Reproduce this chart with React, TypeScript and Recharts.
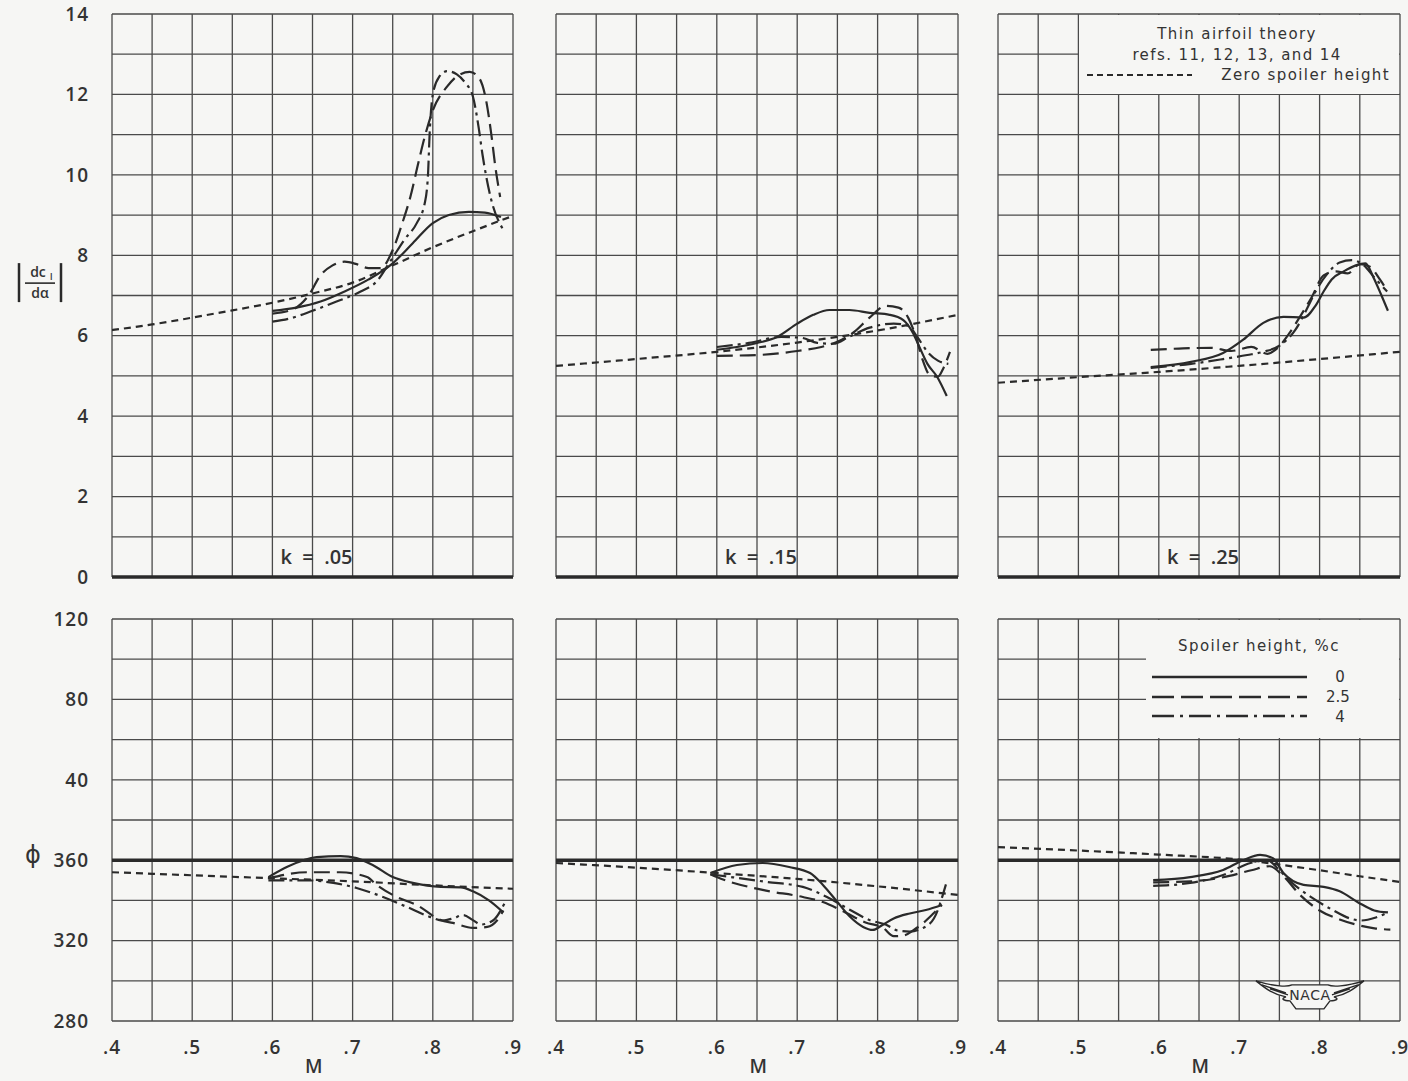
import React from 'react';
import { LineChart, Line, XAxis, YAxis, CartesianGrid, ReferenceLine, ReferenceDot, Legend } from 'recharts';

type Pt = [number, number];

// ---------- axes / ticks ----------
const mGridTicks = [0.4, 0.45, 0.5, 0.55, 0.6, 0.65, 0.7, 0.75, 0.8, 0.85, 0.9];
const mLabelTicks = [0.4, 0.5, 0.6, 0.7, 0.8, 0.9];
const mLabelText = ['.4', '.5', '.6', '.7', '.8', '.9'];
const slopeGridTicks = [0, 1, 2, 3, 4, 5, 6, 7, 8, 9, 10, 11, 12, 13, 14];
const slopeLabelTicks = [0, 2, 4, 6, 8, 10, 12, 14];
const phiGridTicks = [-80, -60, -40, -20, 0, 20, 40, 60, 80, 100, 120];
const phiLabelTicks = [-80, -40, 0, 40, 80, 120];
const phiLabelText = ['280', '320', '360', '40', '80', '120'];
const kLabels = ['k  =  .05', 'k  =  .15', 'k  =  .25'];

// ---------- |dc_l/dα| data (M, value) ----------
const slopeTheoryK05: Pt[] = [[0.4, 6.14], [0.45, 6.28], [0.5, 6.45], [0.55, 6.63], [0.6, 6.82], [0.65, 7.05], [0.7, 7.32], [0.75, 7.75], [0.8, 8.2], [0.85, 8.6], [0.9, 8.98]];
const slopeS0K05: Pt[] = [[0.6, 6.62], [0.63, 6.7], [0.66, 6.85], [0.69, 7.1], [0.72, 7.4], [0.75, 7.8], [0.775, 8.3], [0.8, 8.8], [0.82, 9.0], [0.845, 9.08], [0.865, 9.06], [0.885, 8.95]];
const slopeS25K05: Pt[] = [[0.6, 6.55], [0.625, 6.65], [0.645, 7.0], [0.66, 7.5], [0.675, 7.75], [0.69, 7.84], [0.705, 7.78], [0.72, 7.68], [0.735, 7.68], [0.75, 8.13], [0.762, 8.8], [0.772, 9.45], [0.782, 10.3], [0.79, 10.95], [0.8, 11.6], [0.818, 12.2], [0.83, 12.45], [0.846, 12.56], [0.858, 12.4], [0.866, 11.9], [0.873, 11.0], [0.878, 10.2], [0.884, 9.45]];
const slopeS4K05: Pt[] = [[0.6, 6.35], [0.62, 6.42], [0.65, 6.62], [0.68, 6.85], [0.71, 7.1], [0.73, 7.35], [0.747, 7.85], [0.765, 8.4], [0.78, 8.8], [0.79, 9.3], [0.794, 10.0], [0.796, 11.0], [0.8, 12.0], [0.808, 12.44], [0.818, 12.58], [0.83, 12.5], [0.84, 12.3], [0.85, 11.95], [0.857, 11.2], [0.862, 10.5], [0.872, 9.45], [0.888, 8.63]];

const slopeTheoryK15: Pt[] = [[0.4, 5.25], [0.5, 5.42], [0.6, 5.6], [0.7, 5.83], [0.8, 6.13], [0.9, 6.52]];
const slopeS0K15: Pt[] = [[0.6, 5.65], [0.625, 5.72], [0.65, 5.82], [0.675, 5.97], [0.7, 6.3], [0.72, 6.52], [0.74, 6.64], [0.765, 6.64], [0.79, 6.57], [0.815, 6.52], [0.832, 6.39], [0.844, 6.07], [0.852, 5.72], [0.862, 5.3], [0.874, 4.98], [0.886, 4.5]];
const slopeS25K15: Pt[] = [[0.6, 5.5], [0.65, 5.52], [0.7, 5.62], [0.73, 5.72], [0.75, 5.85], [0.77, 6.08], [0.79, 6.45], [0.81, 6.74], [0.826, 6.7], [0.838, 6.45], [0.848, 5.95], [0.856, 5.4], [0.865, 5.02], [0.875, 4.98], [0.882, 5.2], [0.89, 5.6]];
const slopeS4K15: Pt[] = [[0.6, 5.72], [0.64, 5.82], [0.68, 5.97], [0.705, 5.95], [0.725, 5.82], [0.745, 5.8], [0.765, 5.98], [0.79, 6.2], [0.82, 6.3], [0.838, 6.25], [0.85, 5.95], [0.862, 5.6], [0.875, 5.38], [0.888, 5.3]];

const slopeTheoryK25: Pt[] = [[0.4, 4.83], [0.5, 4.97], [0.6, 5.1], [0.7, 5.25], [0.8, 5.42], [0.9, 5.6]];
const slopeS0K25: Pt[] = [[0.59, 5.22], [0.64, 5.35], [0.68, 5.57], [0.705, 5.9], [0.73, 6.32], [0.755, 6.47], [0.78, 6.45], [0.795, 6.75], [0.805, 7.1], [0.815, 7.4], [0.83, 7.6], [0.845, 7.75], [0.857, 7.8], [0.867, 7.45], [0.877, 7.0], [0.885, 6.62]];
const slopeS25K25: Pt[] = [[0.59, 5.65], [0.625, 5.68], [0.665, 5.7], [0.69, 5.62], [0.715, 5.72], [0.735, 5.55], [0.748, 5.7], [0.762, 6.05], [0.778, 6.55], [0.79, 6.95], [0.805, 7.5], [0.82, 7.6], [0.835, 7.55], [0.85, 7.78], [0.862, 7.72], [0.875, 7.4], [0.884, 7.12]];
const slopeS4K25: Pt[] = [[0.59, 5.2], [0.64, 5.3], [0.68, 5.42], [0.71, 5.52], [0.73, 5.6], [0.75, 5.75], [0.77, 6.15], [0.785, 6.7], [0.795, 7.1], [0.81, 7.55], [0.825, 7.82], [0.84, 7.88], [0.855, 7.75], [0.868, 7.45], [0.884, 7.1]];

// ---------- phase angle φ data (M, degrees) ----------
const phiTheoryK05: Pt[] = [[0.4, 354], [0.5, 352.5], [0.6, 351], [0.7, 349.5], [0.8, 347.5], [0.9, 345.8]];
const phiS0K05: Pt[] = [[0.595, 351.6], [0.62, 357], [0.655, 361.5], [0.685, 362], [0.705, 361], [0.725, 357.6], [0.75, 351.6], [0.775, 348.7], [0.81, 346.7], [0.835, 346.5], [0.85, 344.5], [0.87, 340], [0.888, 334]];
const phiS25K05: Pt[] = [[0.595, 351], [0.643, 354], [0.684, 354], [0.718, 351.6], [0.73, 347.7], [0.755, 341.7], [0.78, 337.7], [0.81, 330.2], [0.825, 328.8], [0.85, 326.3], [0.868, 326.8], [0.88, 330], [0.888, 335]];
const phiS4K05: Pt[] = [[0.595, 350], [0.643, 350], [0.676, 348.7], [0.705, 346.2], [0.738, 341.7], [0.768, 336.7], [0.797, 331.7], [0.812, 330], [0.825, 331], [0.838, 332.7], [0.85, 330.2], [0.86, 328], [0.875, 330], [0.89, 339]];

const phiTheoryK15: Pt[] = [[0.4, 358.6], [0.5, 356.3], [0.6, 353.6], [0.7, 350.7], [0.8, 347], [0.9, 342.7]];
const phiS0K15: Pt[] = [[0.592, 353.6], [0.625, 357.6], [0.657, 358.6], [0.69, 356.6], [0.716, 353.6], [0.732, 347.7], [0.75, 339.2], [0.766, 331.7], [0.782, 326.8], [0.794, 325.3], [0.805, 327.5], [0.82, 331], [0.84, 333.5], [0.86, 335.2], [0.88, 337.7]];
const phiS25K15: Pt[] = [[0.592, 353], [0.6, 351.6], [0.657, 345.2], [0.707, 341.7], [0.732, 339.2], [0.76, 334], [0.785, 329], [0.807, 326.3], [0.82, 322.2], [0.832, 322.5], [0.845, 325.3], [0.857, 328.8], [0.87, 333.7], [0.88, 337.7]];
const phiS4K15: Pt[] = [[0.592, 353], [0.62, 351.5], [0.662, 349.2], [0.707, 346.7], [0.737, 341.7], [0.766, 335.2], [0.79, 330.2], [0.81, 328], [0.825, 325], [0.84, 324.5], [0.855, 326], [0.87, 331], [0.885, 348]];

const phiTheoryK25: Pt[] = [[0.4, 366.5], [0.5, 364.8], [0.6, 362.8], [0.7, 360.3], [0.75, 357.8], [0.8, 355], [0.85, 352], [0.9, 349.2]];
const phiS0K25: Pt[] = [[0.593, 350.1], [0.639, 351.6], [0.68, 355.1], [0.705, 360], [0.726, 362.6], [0.742, 361], [0.755, 353.6], [0.78, 347.7], [0.805, 346.7], [0.825, 344.5], [0.848, 339], [0.868, 335], [0.885, 334]];
const phiS25K25: Pt[] = [[0.593, 349], [0.64, 349.5], [0.68, 351.5], [0.715, 355], [0.738, 357], [0.755, 352], [0.775, 343], [0.8, 335], [0.825, 330.5], [0.85, 327.5], [0.87, 326], [0.888, 325.5]];
const phiS4K25: Pt[] = [[0.593, 347.2], [0.639, 348.7], [0.68, 352.6], [0.714, 358.6], [0.735, 360], [0.75, 355], [0.765, 349], [0.79, 341.5], [0.815, 335.5], [0.838, 331], [0.852, 330], [0.87, 331.5], [0.885, 334]];

// ---------- layout ----------
const PAGE_W = 1408;
const PAGE_H = 1081;
const COLS = [{ x0: 112, x1: 513 }, { x0: 556, x1: 958 }, { x0: 998, x1: 1400 }];
const ROWS = [{ y0: 14, y1: 577 }, { y0: 619, y1: 1021 }];
const INK = '#2a2a2a';
const GRID = '#4a4a4a';
const BG = '#f6f6f4';
const FONT = '"Open Sans", "DejaVu Sans", sans-serif';
const LFONT = '"DejaVu Sans", sans-serif';

const DASH_THEORY = '7 5';
const DASH_25 = '16 7';
const DASH_4 = '16 5 3 5';

const toRows = (pts: Pt[], phi: boolean) =>
  pts.map(([m, v]) => ({ m, v: phi ? (v > 180 ? v - 360 : v) : v }));

const slopeSets = [
  [slopeTheoryK05, slopeS0K05, slopeS25K05, slopeS4K05],
  [slopeTheoryK15, slopeS0K15, slopeS25K15, slopeS4K15],
  [slopeTheoryK25, slopeS0K25, slopeS25K25, slopeS4K25],
];
const phiSets = [
  [phiTheoryK05, phiS0K05, phiS25K05, phiS4K05],
  [phiTheoryK15, phiS0K15, phiS25K15, phiS4K15],
  [phiTheoryK25, phiS0K25, phiS25K25, phiS4K25],
];

const tickStyle = { fontSize: 19, fill: '#333', fontFamily: FONT, fontWeight: 600, letterSpacing: 1 };

const SlopeTitle = (props: any) => {
  const vb = props.viewBox || { x: 0, y: 14, width: 112, height: 563 };
  const cx = 40;
  const cy = vb.y + vb.height * 0.478;
  return (
    <g>
      <line x1={cx - 21} x2={cx - 21} y1={cy - 20} y2={cy + 19} stroke={INK} strokeWidth={2.5} />
      <line x1={cx + 21} x2={cx + 21} y1={cy - 20} y2={cy + 19} stroke={INK} strokeWidth={2.5} />
      <text x={cx - 2} y={cy - 6} textAnchor="middle" fontSize={14} fontFamily={FONT} fontWeight={600} fill="#333">dc</text>
      <text x={cx + 10} y={cy - 3} textAnchor="start" fontSize={9} fontFamily={FONT} fontWeight={600} fill="#333">l</text>
      <line x1={cx - 15} x2={cx + 15} y1={cy} y2={cy} stroke={INK} strokeWidth={1.6} />
      <text x={cx} y={cy + 15} textAnchor="middle" fontSize={14} fontFamily={FONT} fontWeight={600} fill="#333">dα</text>
    </g>
  );
};

const PhiTitle = (props: any) => {
  const vb = props.viewBox || { x: 0, y: 619, width: 112, height: 402 };
  return (
    <text x={33} y={vb.y + vb.height * 0.587 + 8} textAnchor="middle" fontSize={24} fontFamily={LFONT} fill="#333">ϕ</text>
  );
};

const MTitle = (props: any) => {
  const vb = props.viewBox;
  return (
    <text x={vb.x + vb.width * 0.503} y={vb.y + 52} textAnchor="middle" fontSize={19} fontFamily={FONT} fontWeight={600} fill="#333">M</text>
  );
};

const legendText = { fontSize: 15, fontFamily: LFONT, fill: '#333', letterSpacing: 1.4 };
const legendNum = { fontSize: 15, fontFamily: LFONT, fill: '#333' };

const TheoryLegend = () => (
  <div style={{ width: 320, height: 79, background: BG }}>
    <svg width={320} height={79} style={{ display: 'block' }}>
      <text x={158} y={24} textAnchor="middle" {...legendText}>Thin airfoil theory</text>
      <text x={158} y={45} textAnchor="middle" {...legendText}>refs. 11, 12, 13, and 14</text>
      <line x1={8} x2={113} y1={60} y2={60} stroke={INK} strokeWidth={2} strokeDasharray="6 4" />
      <text x={311} y={65} textAnchor="end" {...legendText}>Zero spoiler height</text>
    </svg>
  </div>
);

const SpoilerLegend = () => (
  <div style={{ width: 253, height: 118, background: BG }}>
    <svg width={253} height={118} style={{ display: 'block' }}>
      <text x={113} y={31} textAnchor="middle" {...legendText}>Spoiler height, %c</text>
      <line x1={6} x2={161} y1={57} y2={57} stroke={INK} strokeWidth={2.3} />
      <text x={194} y={62} textAnchor="middle" {...legendNum}>0</text>
      <line x1={6} x2={161} y1={77} y2={77} stroke={INK} strokeWidth={2.3} strokeDasharray="22 7" />
      <text x={192} y={82} textAnchor="middle" {...legendNum}>2.5</text>
      <line x1={6} x2={161} y1={96} y2={96} stroke={INK} strokeWidth={2.3} strokeDasharray="22 6 3 6" />
      <text x={194} y={102} textAnchor="middle" {...legendNum}>4</text>
    </svg>
  </div>
);

const KLabel = (text: string) => (p: any) => (
  <text x={p.cx} y={p.cy + 7} textAnchor="middle" fontSize={20} fontFamily={FONT} fontWeight={600} fill="#333" style={{ whiteSpace: 'pre' }}>{text}</text>
);

const NacaLogo = (p: any) => (
  <g transform={`translate(${p.cx},${p.cy})`} fill="none" stroke={INK} strokeWidth={1.4}>
    <path d="M-54,-12 C-35,-6 -22,-6 -18,-8 L18,-8 C22,-6 35,-6 54,-12 C44,-4 36,2 24,4 C30,6 26,8 20,8 L14,16 L-14,16 L-20,8 C-26,8 -30,6 -24,4 C-36,2 -44,-4 -54,-12 Z" fill={BG} />
    <path d="M-48,-8 L-24,0 M-40,-4 L-22,2 M48,-8 L24,0 M40,-4 L22,2" />
    <text x={0} y={7} textAnchor="middle" fontSize={14} fontFamily={LFONT} fill="#333" stroke="none" letterSpacing={0.5}>NACA</text>
  </g>
);

const Panel = ({ col, row }: { col: number; row: number }) => {
  const { x0, x1 } = COLS[col];
  const { y0, y1 } = ROWS[row];
  const phi = row === 1;
  const showY = col === 0;
  const showX = row === 1;
  const yW = showY ? 112 : 0;
  const xH = showX ? 60 : 0;
  const margin = { top: y0, left: x0 - yW, right: PAGE_W - x1, bottom: PAGE_H - y1 - xH };
  const sets = phi ? phiSets[col] : slopeSets[col];
  const [theory, s0, s25, s4] = sets.map((s) => toRows(s, phi));
  const yDomain = phi ? [-80, 120] : [0, 14];
  const yTicks = phi ? phiGridTicks : slopeGridTicks;
  const yFmt = (v: number) => {
    if (!showY) return '';
    if (phi) {
      const i = phiLabelTicks.indexOf(v);
      return i >= 0 ? phiLabelText[i] : '';
    }
    return slopeLabelTicks.includes(v) ? String(v) : '';
  };
  const xFmt = (v: number) => {
    if (!showX) return '';
    const i = mLabelTicks.findIndex((t) => Math.abs(t - v) < 1e-6);
    return i >= 0 ? mLabelText[i] : '';
  };
  return (
    <div style={{ position: 'absolute', left: 0, top: 0, width: PAGE_W, height: PAGE_H }}>
      <LineChart width={PAGE_W} height={PAGE_H} margin={margin}>
        <CartesianGrid stroke={GRID} strokeWidth={1.3} />
        <XAxis
          type="number"
          dataKey="m"
          domain={[0.4, 0.9]}
          ticks={mGridTicks}
          interval={0}
          allowDataOverflow
          height={xH}
          axisLine={false}
          tickLine={false}
          tickSize={0}
          tickMargin={20}
          tick={tickStyle}
          tickFormatter={xFmt}
          label={showX ? MTitle : undefined}
        />
        <YAxis
          type="number"
          domain={yDomain}
          ticks={yTicks}
          interval={0}
          allowDataOverflow
          width={yW}
          axisLine={false}
          tickLine={false}
          tickSize={0}
          tickMargin={23}
          tick={tickStyle}
          tickFormatter={yFmt}
          label={showY ? (phi ? PhiTitle : SlopeTitle) : undefined}
        />
        <ReferenceLine y={0} stroke={INK} strokeWidth={3.5} />
        <Line data={theory} dataKey="v" type="monotone" stroke={INK} strokeWidth={2.2} strokeDasharray={DASH_THEORY} dot={false} isAnimationActive={false} name="Zero spoiler height (theory)" />
        <Line data={s0} dataKey="v" type="monotone" stroke={INK} strokeWidth={2.2} dot={false} isAnimationActive={false} name="0" />
        <Line data={s25} dataKey="v" type="monotone" stroke={INK} strokeWidth={2.2} strokeDasharray={DASH_25} dot={false} isAnimationActive={false} name="2.5" />
        <Line data={s4} dataKey="v" type="monotone" stroke={INK} strokeWidth={2.2} strokeDasharray={DASH_4} dot={false} isAnimationActive={false} name="4" />
        {!phi && <ReferenceDot x={0.655} y={0.5} r={0} shape={KLabel(kLabels[col])} />}
        {phi && col === 2 && <ReferenceDot x={0.788} y={-66} r={0} shape={NacaLogo} />}
        {!phi && col === 2 && (
          <Legend layout="horizontal" verticalAlign="middle" align="center"
            wrapperStyle={{ left: 1079, top: 15, width: 320, height: 79 }}
            content={() => <TheoryLegend />} />
        )}
        {phi && col === 2 && (
          <Legend layout="horizontal" verticalAlign="middle" align="center"
            wrapperStyle={{ left: 1146, top: 620, width: 253, height: 118 }}
            content={() => <SpoilerLegend />} />
        )}
      </LineChart>
    </div>
  );
};

export default function App() {
  return (
    <div style={{ position: 'absolute', left: 0, top: 0, width: PAGE_W, height: PAGE_H, background: BG, overflow: 'hidden' }}>
      {[0, 1].map((row) => [0, 1, 2].map((col) => <Panel key={`${row}-${col}`} col={col} row={row} />))}
    </div>
  );
}
